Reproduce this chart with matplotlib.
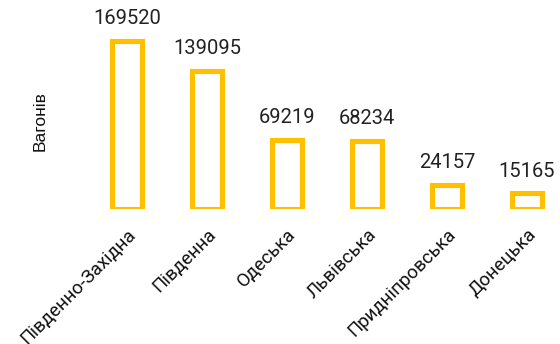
import matplotlib
matplotlib.use("Agg")
import matplotlib.pyplot as plt

categories = ["Південно-Західна", "Південна", "Одеська", "Львівська",
              "Придніпровська", "Донецька"]
wagons = [169520, 139095, 69219, 68234, 24157, 15165]
y_label = "Вагонів"

plt.rcParams["font.family"] = ["Roboto", "DejaVu Sans"]

fig = plt.figure(figsize=(5.6, 3.44), dpi=100)
ax = fig.add_axes([87 / 560, 135.5 / 344, 472 / 560, 198 / 344])

x = range(len(categories))
ax.bar(x, wagons, width=0.38, facecolor="white", edgecolor="#FFC000",
       linewidth=3.7)

for xi, v in zip(x, wagons):
    ax.annotate(f"{v}", (xi, v), xytext=(0, 9), textcoords="offset points",
                ha="center", va="bottom", fontsize=14.5, color="#222222")

ax.set_xlim(-0.5, 5.4)
ax.set_ylim(0, 200000)
ax.set_xticks(list(x))
ax.set_xticklabels(categories, rotation=45, ha="right",
                   rotation_mode="anchor", fontsize=13.5, color="#111111")
ax.tick_params(axis="x", length=0, pad=12)
ax.set_yticks([])
ax.set_ylabel(y_label, fontsize=12.5, color="#111111",
              family=["Liberation Sans", "DejaVu Sans"])
ax.yaxis.set_label_coords(-39 / 472, (344 - 121 - 135.5) / 198)
for s in ax.spines.values():
    s.set_visible(False)

fig.savefig("out.png", dpi=100)
